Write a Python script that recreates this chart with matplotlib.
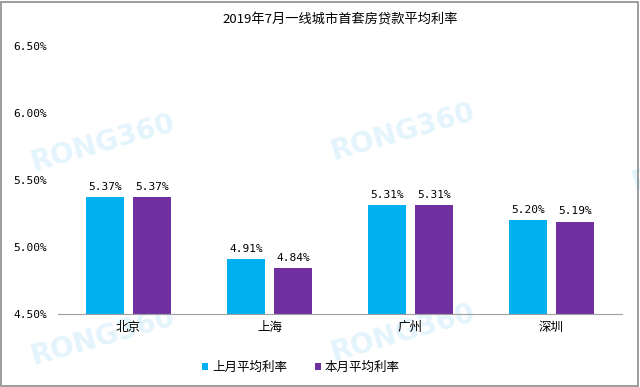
import numpy as np
import matplotlib
matplotlib.use('Agg')
import matplotlib.pyplot as plt
from matplotlib.patches import Rectangle

plt.rcParams['font.family'] = ['Noto Sans CJK SC', 'DejaVu Sans']

cities = ['北京', '上海', '广州', '深圳']
last_month = [5.37, 4.91, 5.31, 5.20]
this_month = [5.37, 4.84, 5.31, 5.19]
series_names = ['上月平均利率', '本月平均利率']
yticks = [4.5, 5.0, 5.5, 6.0, 6.5]

blue = '#00b0f0'
purple = '#7030a0'

fig = plt.figure(figsize=(6.4, 3.87), dpi=100)
ax = fig.add_axes([0.0906, 0.1886, 0.8813, 0.6925])
ax.set_zorder(1)

# watermark
for wx, wy in [(0.16, 0.63), (0.63, 0.66), (0.16, 0.13), (0.63, 0.14), (1.1, 0.58)]:
    fig.text(wx, wy, 'RONG360', fontsize=20, fontweight='bold', color='#e4f4fc',
             rotation=16, ha='center', va='center', family='DejaVu Sans', zorder=-1)

x = np.arange(len(cities))
w = 0.27
off = 0.167
b1 = ax.bar(x - off, last_month, w, color=blue, label=series_names[0], zorder=2)
b2 = ax.bar(x + off, this_month, w, color=purple, label=series_names[1], zorder=2)

for bars, vals in [(b1, last_month), (b2, this_month)]:
    for r, v in zip(bars, vals):
        ax.text(r.get_x() + r.get_width() / 2, v + 0.04, f'{v:.2f}%',
                ha='center', va='bottom', fontsize=8, family='DejaVu Sans Mono')

ax.set_xlim(-0.5, 3.5)
ax.set_ylim(4.5, 6.5)
ax.set_yticks(yticks)
ax.set_yticklabels([f'{t:.2f}%' for t in yticks], family='DejaVu Sans Mono', fontsize=8)
ax.set_xticks(x)
ax.set_xticklabels(cities, fontsize=9)
ax.tick_params(axis='both', length=0)
ax.tick_params(axis='y', pad=8)
ax.tick_params(axis='x', pad=5)
for s in ['top', 'right', 'left']:
    ax.spines[s].set_visible(False)
ax.spines['bottom'].set_color('#a0a0a0')
ax.patch.set_alpha(0)

ax.set_title('2019年7月一线城市首套房贷款平均利率', fontsize=9.5, pad=16)

leg = fig.legend(handles=[b1, b2], labels=series_names, loc='center',
                 bbox_to_anchor=(0.47, 0.05), ncol=2, frameon=False, fontsize=9,
                 handlelength=0.5, handleheight=0.5, handletextpad=0.3, columnspacing=2.2)

fig.patches.append(Rectangle((0.002, 0.003), 0.995, 0.993, transform=fig.transFigure,
                             fill=False, edgecolor='#8c8c8c', linewidth=1.2))

fig.savefig('out.png', dpi=100)
